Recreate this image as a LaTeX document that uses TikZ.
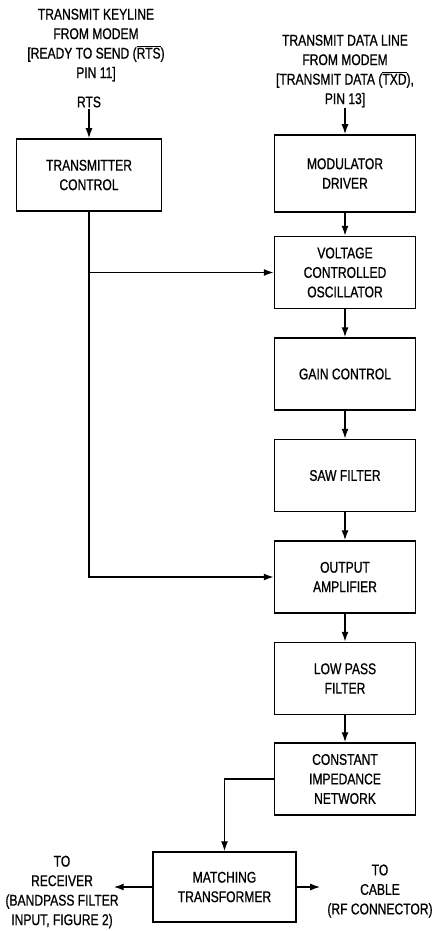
\documentclass[tikz,border=0pt]{standalone}
\usepackage{fontspec}
\setmainfont{Liberation Sans}[FakeStretch=0.78, FakeBold=0.8]
\usepackage{tikz}
\usetikzlibrary{arrows.meta,positioning,calc}
\newcommand{\lbl}{\fontsize{15.5}{19.5}\selectfont}
\tikzset{
  block/.style={rectangle, draw=black, line width=1.5pt, fill=white, align=center,
                minimum width=141pt, minimum height=72pt, inner sep=2pt, font=\lbl},
  note/.style={align=center, inner sep=1pt, font=\lbl},
  ar/.style={-{Latex[length=10pt,width=7pt]}, line width=1.4pt}
}

\begin{document}
\begin{tikzpicture}[x=1pt, y=1pt]
\useasboundingbox (0,0) rectangle (433,-931);
\node[note] (keyl) at (96,-45) {TRANSMIT KEYLINE\\FROM MODEM\\{[}READY TO SEND ($\overline{\mbox{RTS}}$)\\PIN 11]};
\node[note] (rtsin) at (89,-102) {RTS};
\node[block, minimum width=145pt] (tc) at (89,-175) {TRANSMITTER\\CONTROL};
\node[note] (dl) at (345,-71) {TRANSMIT DATA LINE\\FROM MODEM\\{[}TRANSMIT DATA ($\overline{\mbox{TXD}}$),\\PIN 13]};
\node[block, minimum height=77pt] (mod) at (345,-173.5) {MODULATOR\\DRIVER};
\node[block, below=23pt of mod] (vco) {VOLTAGE\\CONTROLLED\\OSCILLATOR};
\node[block, below=28pt of vco] (gc) {GAIN CONTROL};
\node[block, below=28pt of gc] (saw) {SAW FILTER};
\node[block, below=28pt of saw] (amp) {OUTPUT\\AMPLIFIER};
\node[block, below=28pt of amp] (lpf) {LOW PASS\\FILTER};
\node[block, below=27pt of lpf] (cin) {CONSTANT\\IMPEDANCE\\NETWORK};
\node[block, minimum width=143pt, minimum height=70pt] (mt) at (224.5,-887) {MATCHING\\TRANSFORMER};
\node[note] (rx) at (62,-892) {TO\\RECEIVER\\(BANDPASS FILTER\\INPUT, FIGURE 2)};
\node[note] (cab) at (380,-891) {TO\\CABLE\\(RF CONNECTOR)};
\draw[ar] (rtsin) -- (tc);
\draw[ar] (dl) -- (mod);
\foreach \a/\b in {mod/vco, vco/gc, gc/saw, saw/amp, amp/lpf, lpf/cin}
  \draw[ar] (\a) -- (\b);
\draw[ar] (tc.south) |- (amp.west);
\draw[ar] (tc.south |- vco.west) -- (vco.west);
\draw[ar] (cin.west) -| (mt.north);
\draw[ar] (mt.west) -- ([xshift=-6pt]rx.east |- mt.west);
\draw[ar] (mt.east) -- ([xshift=-6pt]cab.west |- mt.east);
\end{tikzpicture}
\end{document}
